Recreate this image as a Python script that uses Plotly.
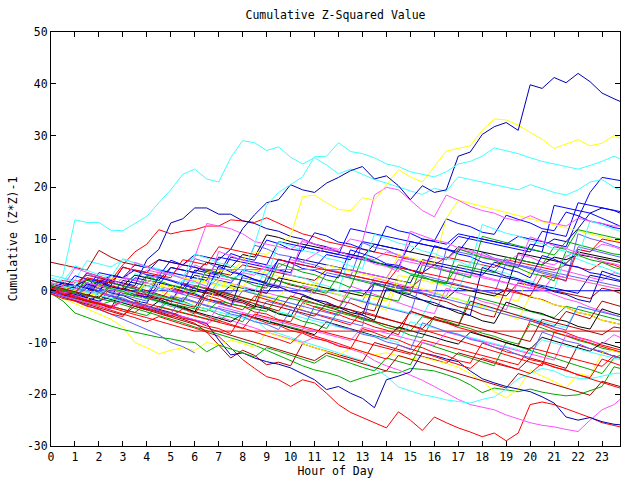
import plotly.graph_objects as go

# ---------------- data ----------------
HOURS = [0, 0.5, 1, 1.5, 2, 2.5, 3, 3.5, 4, 4.5, 5, 5.5,
         6, 6.5, 7, 7.5, 8, 8.5, 9, 9.5, 10, 10.5, 11, 11.5,
         12, 12.5, 13, 13.5, 14, 14.5, 15, 15.5, 16, 16.5, 17, 17.5,
         18, 18.5, 19, 19.5, 20, 20.5, 21, 21.5, 22, 22.5, 23, 23.5,
         23.75]

X_TICKS = list(range(24))
X_LABELS = ["0", "1", "2", "3", "4", "5", "6", "7", "8", "9", "10", "11",
            "12", "13", "14", "15", "16", "17", "18", "19", "20", "21", "22", "23"]
Y_TICKS = [-30, -20, -10, 0, 10, 20, 30, 40, 50]
Y_LABELS = ["-30", "-20", "-10", "0", "10", "20", "30", "40", "50"]

RED = "#ff0000"
GREEN = "#00a800"
BLUE = "#0000ff"
MAGENTA = "#ff50ff"
CYAN = "#40ffff"
DARKRED = "#b00000"
YELLOW = "#ffff00"
BLACK = "#000000"
NAVY = "#0000b0"
SLATE = "#6060ff"

cyan_top = [0.5, 3.0, 13.7, 13.2, 13.2, 11.7, 11.6, 13.0, 14.4, 17.0, 19.5, 22.5,
            23.5, 21.6, 21.0, 25.7, 29.0, 28.6, 27.1, 27.8, 25.8, 24.5, 25.7, 24.3,
            22.6, 23.5, 22.5, 21.5, 20.8, 20.0, 19.3, 18.6, 19.8, 19.2, 22.0, 21.5,
            21.0, 20.5, 20.0, 19.5, 20.5, 19.7, 19.0, 18.5, 19.5, 21.0, 21.5, 20.0,
            19.5]
cyan_second = [1.0, 0.5, 1.0, 0.0, -0.5, 0.5, 0.0, -0.5, 1.0, 0.5, 0.0, 2.0,
               1.5, 1.0, 3.0, 2.5, 3.0, 9.0, 16.5, 19.0, 20.5, 22.0, 25.9, 26.0,
               28.6, 26.9, 26.5, 25.7, 24.5, 24.0, 23.0, 22.5, 22.0, 23.0, 24.5, 25.0,
               26.0, 27.6, 27.0, 26.5, 25.7, 25.0, 24.5, 24.0, 23.5, 24.2, 25.0, 26.0,
               25.5]
navy_peak = [0.5, 1.5, 1.0, 2.0, 1.5, 3.0, 2.5, 4.0, 3.5, 6.0, 5.5, 5.0,
             7.0, 6.5, 6.0, 8.0, 12.0, 14.7, 17.0, 17.6, 20.5, 19.5, 19.0, 20.8,
             21.9, 23.2, 24.0, 21.6, 22.2, 20.3, 17.6, 20.3, 19.0, 19.5, 26.0, 26.8,
             30.2, 31.7, 32.5, 31.0, 39.8, 39.1, 41.2, 40.2, 42.0, 40.4, 38.2, 37.1,
             36.6]
navy_second = [0.0, -0.5, 1.0, 0.5, 0.0, 2.0, 1.5, 1.0, 6.0, 8.0, 13.1, 13.9,
               16.0, 16.0, 14.8, 14.8, 13.5, 13.0, 12.0, 11.5, 10.5, 10.0, 9.0, 8.5,
               7.5, 7.0, 6.5, 5.5, 5.0, 4.5, 4.0, 3.5, 5.0, 4.5, 4.0, 3.5,
               3.0, 5.5, 5.0, 4.5, 9.0, 8.5, 10.0, 9.5, 12.0, 15.0, 16.0, 15.5,
               15.0]
blue_late = [0.5, 0.0, -0.5, 1.5, 1.0, 0.5, 0.0, 2.5, 2.0, 1.5, 1.0, 0.5,
             3.0, 2.5, 2.0, 1.5, 4.0, 3.5, 3.0, 6.0, 5.5, 5.0, 4.5, 7.0,
             6.5, 6.0, 9.5, 9.0, 8.5, 8.0, 7.5, 10.0, 9.5, 9.0, 11.0, 10.5,
             10.0, 9.5, 9.0, 10.5, 10.0, 9.5, 9.0, 8.5, 14.0, 19.0, 21.9, 21.5,
             21.3]
yellow_high = [1.0, 0.5, 0.0, -0.5, -1.0, 0.5, 0.0, -0.5, 1.5, 1.0, 0.5, 2.5,
               2.0, 3.5, 4.0, 3.5, 6.0, 7.5, 7.0, 9.0, 10.5, 18.2, 18.5, 17.0,
               15.7, 15.5, 18.0, 17.5, 20.5, 23.4, 22.0, 21.0, 24.0, 27.0, 27.5, 28.0,
               31.0, 33.2, 33.0, 32.0, 30.6, 29.3, 27.5, 28.4, 29.2, 28.0, 28.5, 30.0,
               29.5]
magenta_high = [0.0, -0.5, 0.5, 0.0, -0.5, -1.0, 0.0, -0.5, -1.0, 0.5, 0.0, -0.5,
                1.0, 0.5, 2.5, 2.0, 3.5, 3.0, 5.0, 4.5, 6.0, 5.5, 7.0, 8.5,
                8.0, 10.0, 9.5, 18.5, 20.0, 19.5, 17.5, 15.5, 14.3, 18.5, 17.5, 16.3,
                15.5, 15.0, 14.0, 13.5, 14.5, 13.5, 13.0, 12.5, 14.0, 13.5, 13.0, 12.5,
                12.5]
magenta_early = [1.0, 0.5, 2.0, 1.5, 1.0, 3.0, 2.5, 2.0, 4.0, 3.5, 3.0, 5.0,
                 6.5, 13.0, 12.5, 12.0, 11.0, 9.5, 9.0, 8.5, 8.0, 9.5, 9.0, 8.0,
                 7.5, 7.0, 6.5, 6.0, 7.5, 7.0, 6.0, 5.5, 6.5, 6.0, 8.0, 7.5,
                 7.0, 6.0, 5.5, 7.0, 6.5, 5.5, 5.0, 6.5, 8.0, 7.5, 9.0, 8.5,
                 8.0]
red_upper = [1.0, 2.0, 1.5, 3.0, 2.5, 2.0, 5.0, 7.5, 9.0, 11.8, 11.0, 11.5,
             11.8, 12.5, 12.5, 13.7, 13.5, 13.2, 14.1, 13.0, 12.0, 11.0, 10.4, 9.5,
             9.0, 8.5, 8.0, 7.5, 7.0, 6.5, 6.0, 5.5, 5.0, 6.5, 6.0, 5.5,
             5.0, 4.5, 6.0, 5.5, 5.0, 4.5, 4.0, 5.0, 4.5, 4.0, 5.5, 5.0,
             4.5]
darkred_start = [5.5, 5.0, 4.5, 4.0, 7.8, 6.5, 5.5, 5.0, 4.5, 6.0, 5.5, 5.0,
                 4.5, 4.0, 3.5, 3.0, 5.0, 4.5, 4.0, 3.5, 3.0, 2.5, 2.0, 4.0,
                 3.5, 3.0, 2.5, 2.0, 1.5, 1.0, 0.5, 2.5, 2.0, 1.5, 1.0, 0.5,
                 0.0, -0.5, -1.0, 1.5, 1.0, 0.5, 0.0, -0.5, -1.0, -1.5, 0.5, 0.0,
                 -0.5]
red_lowest = [0.0, -0.8, -1.6, -2.4, -3.0, -3.8, -4.5, -5.2, -6.0, -5.0, -5.8, -6.5,
              -7.2, -8.0, -8.8, -11.0, -13.3, -15.0, -16.6, -17.2, -18.5, -17.2, -17.8, -19.8,
              -22.0, -23.5, -24.5, -25.5, -26.5, -23.4, -25.0, -27.0, -24.4, -25.5, -26.5, -27.3,
              -28.2, -27.5, -29.0, -27.5, -22.0, -21.5, -22.0, -22.8, -23.6, -24.5, -25.5, -26.0,
              -26.3]
navy_low = [0.5, 0.0, -0.7, -1.4, -2.0, -1.0, -1.7, -2.4, -3.0, -3.6, -4.2, -5.0,
            -5.6, -6.3, -9.5, -12.4, -12.0, -13.0, -13.7, -14.2, -14.9, -16.0, -17.2, -19.1,
            -18.5, -19.8, -20.8, -22.6, -17.2, -16.5, -15.7, -12.0, -12.5, -13.2, -13.7, -15.5,
            -17.0, -17.8, -18.5, -19.0, -19.5, -20.5, -21.7, -24.4, -25.0, -24.5, -25.3, -25.8,
            -25.9]
cyan_low = [0.0, -0.6, -1.2, -0.2, -0.8, -1.5, -2.2, -2.8, -1.5, -2.2, -3.0, -3.6,
            -4.3, -5.0, -5.6, -4.0, -4.7, -5.5, -7.5, -8.2, -9.0, -9.8, -10.5, -11.2,
            -12.0, -12.8, -13.5, -15.0, -16.5, -18.6, -19.3, -20.1, -20.5, -21.1, -21.4, -21.7,
            -21.0, -20.5, -19.0, -17.0, -16.0, -15.0, -15.5, -16.6, -16.9, -17.0, -16.5, -16.0,
            -15.9]
magenta_low = [0.5, -0.2, -0.9, -1.6, -2.2, -2.9, -1.8, -2.5, -3.2, -3.8, -4.5, -5.2,
               -5.8, -6.5, -5.0, -5.7, -6.5, -7.2, -8.0, -8.7, -9.4, -10.0, -9.0, -9.8,
               -10.5, -11.3, -12.0, -13.5, -14.5, -15.3, -16.3, -17.3, -18.5, -19.8, -21.0, -22.0,
               -22.5, -23.0, -24.0, -24.8, -25.5, -26.0, -26.3, -26.8, -27.2, -25.0, -23.0, -22.0,
               -21.0]
green_low = [0.0, -0.7, -1.4, -2.1, -2.8, -2.0, -2.7, -3.4, -4.0, -4.8, -5.5, -6.2,
             -7.0, -7.7, -8.4, -9.0, -9.8, -10.5, -11.5, -12.5, -13.5, -14.5, -15.3, -15.8,
             -16.5, -17.6, -16.8, -16.2, -15.5, -15.9, -15.0, -15.2, -15.5, -16.2, -17.0, -18.2,
             -19.7, -18.8, -19.2, -19.5, -19.0, -19.6, -20.0, -20.3, -20.1, -19.3, -18.5, -14.7,
             -15.0]
yellow_low = [-0.5, -1.5, -2.5, -3.5, -4.5, -5.5, -7.0, -10.0, -11.0, -12.2, -11.5, -11.0,
              -11.5, -10.0, -10.5, -9.5, -10.2, -11.0, -8.0, -8.8, -9.5, -10.2, -11.0, -11.8,
              -12.5, -11.0, -11.8, -12.4, -12.0, -12.6, -13.2, -12.8, -13.5, -14.0, -14.8, -16.0,
              -17.5, -19.5, -20.7, -19.0, -15.3, -16.5, -17.5, -18.8, -16.0, -16.5, -12.0, -11.5,
              -12.0]
slate_short = [0.0, -1.0, -2.0, -2.8, -3.6, -4.5, -5.5, -6.5, -7.5, -8.5, -10.0, -10.8,
               -12.0, None, None, None, None, None, None, None, None, None, None, None,
               None, None, None, None, None, None, None, None, None, None, None, None,
               None, None, None, None, None, None, None, None, None, None, None, None,
               None]
green_bottom = [-0.5, -2.0, -4.3, -5.2, -6.0, -6.8, -7.5, -8.0, -8.5, -9.0, -9.3, -9.8,
                -10.0, -11.8, -10.5, -11.2, -12.0, -12.8, -11.0, -11.7, -12.5, -13.2, -14.0, -12.5,
                -13.2, -14.0, -14.8, -15.5, -13.0, -13.7, -14.3, -10.0, -10.8, -11.5, -12.3, -13.0,
                -13.8, -14.5, -10.0, -10.8, -11.5, -12.3, -13.0, -13.8, -14.5, -15.2, -16.0, -13.0,
                -12.5]
darkred_low = [0.0, -0.8, -1.5, 0.5, -0.3, -1.0, -1.8, -2.5, -3.3, -4.0, -4.8, -5.5,
               -6.3, -8.0, -10.5, -13.0, -11.5, -12.5, -14.3, -13.8, -14.5, -10.2, -11.0, -11.7,
               -12.3, -13.0, -13.7, -10.0, -10.7, -11.4, -12.0, -12.7, -13.3, -14.0, -12.0, -12.6,
               -13.3, -14.0, -14.6, -15.2, -13.0, -13.6, -14.3, -15.0, -10.5, -11.2, -11.9, -12.5,
               -13.0]
black_a = [0.0, 0.5, 0.0, 1.5, 1.0, 0.5, 0.0, -0.5, 2.0, 1.5, 1.0, 0.5,
           0.0, -0.5, -1.0, 1.0, 0.5, 0.0, -0.5, 2.5, 2.0, 1.5, 1.0, 0.5,
           0.0, -0.5, -1.0, 1.5, 1.0, 0.5, 0.0, -0.5, -1.0, -1.5, 0.5, 0.0,
           -0.5, -1.0, 0.2, 7.3, 6.8, 6.3, 5.8, 5.3, 7.5, 7.0, 6.5, 6.0,
           5.8]
black_b = [0.5, 1.0, 0.5, 0.0, 2.0, 1.5, 1.0, 3.0, 2.5, 2.0, 4.5, 4.0,
           3.5, 5.5, 5.0, 4.5, 7.0, 6.5, 10.8, 10.3, 9.5, 9.0, 8.5, 8.0,
           7.5, 7.0, 6.5, 9.0, 8.5, 8.0, 7.5, 7.0, 6.5, 6.0, 8.5, 8.0,
           7.5, 7.0, 6.5, 6.0, 5.5, 5.0, 6.5, 6.0, 7.0, 6.6, 6.2, 5.8,
           5.5]
black_c = [0.0, -0.7, -1.4, -2.0, -1.0, -1.7, -2.4, -3.0, -3.7, -2.0, -2.7, -3.4,
           -4.0, -4.7, -5.3, -6.0, -4.5, -5.2, -5.9, -6.5, -7.2, -7.8, -8.5, -6.0,
           -6.7, -7.3, -8.0, -8.7, -9.3, -7.0, -7.7, -8.3, -9.0, -9.7, -10.3, -8.0,
           -8.7, -9.4, -10.0, -10.7, -11.3, -9.0, -9.7, -10.4, -11.0, -11.7, -10.0, -10.7,
           -11.0]
red_mid_low = [0.5, -0.3, -1.0, -1.8, -2.5, -3.2, -2.0, -2.7, -3.4, -4.2, -5.0, -3.5,
               -4.2, -5.0, -5.7, -6.5, -7.2, -8.0, -8.7, -9.4, -10.2, -8.0, -8.7, -9.4,
               -10.2, -11.0, -11.7, -12.4, -13.2, -10.5, -11.2, -12.0, -12.7, -13.5, -14.2, -15.0,
               -13.0, -13.7, -14.5, -15.2, -16.0, -14.0, -14.7, -15.4, -16.2, -17.0, -17.7, -18.5,
               -18.8]
red_mid = [1.0, 0.3, -0.4, -1.1, 1.5, 0.8, 0.1, -0.6, -1.3, -2.0, 0.5, -0.2,
           -0.9, -1.6, -2.3, -3.0, -3.7, -1.0, -1.7, -2.4, -3.1, -3.8, -4.5, -5.2,
           -5.9, -6.6, -4.0, -4.7, -5.4, -6.1, -6.8, -7.5, -8.2, -8.9, -9.6, -10.3,
           -11.0, -11.7, -12.4, -13.1, -13.8, -14.5, -8.0, -8.7, -9.4, -10.1, -10.8, -11.5,
           -11.8]
darkred_mid = [2.0, 1.3, 0.6, 3.5, 2.8, 2.1, 1.4, 0.7, 0.0, -0.7, -1.4, -2.1,
               1.0, 0.3, -0.4, -1.1, -1.8, -2.5, -3.2, -3.9, -1.0, -1.7, -2.4, -3.1,
               -3.8, -4.5, -5.2, -5.9, -6.6, -7.3, -4.0, -4.7, -5.4, -6.1, -6.8, -2.0,
               -2.7, -3.4, -4.1, -4.8, -5.5, -6.2, -6.9, -4.0, -4.7, -5.4, -2.0, -2.7,
               -3.0]
darkred_lowmid = [-0.5, -1.2, -1.9, -2.6, -3.3, -4.0, -4.7, -3.0, -3.7, -4.4, -5.1, -5.8,
                  -6.5, -7.2, -7.9, -8.6, -9.3, -10.0, -10.7, -11.4, -12.1, -12.8, -13.5, -12.0,
                  -12.7, -13.4, -14.1, -14.8, -15.5, -12.5, -13.2, -13.9, -14.6, -15.3, -16.0, -16.7,
                  -17.4, -18.1, -18.8, -16.0, -16.7, -17.4, -18.1, -18.8, -19.5, -20.2, -17.5, -18.2,
                  -18.5]
green_mid = [0.0, -0.6, -1.2, -1.8, -2.4, -3.0, -3.6, -4.2, -4.8, -3.0, -3.6, -4.2,
             -4.8, -5.4, -6.0, -4.0, -4.6, -5.2, -5.8, -6.4, -7.0, -7.6, -3.0, -3.6,
             -4.2, -4.8, -5.4, -6.0, -6.6, -7.2, -7.8, -5.0, -5.6, -6.2, -6.8, -1.0,
             -1.6, -2.2, -2.8, -3.4, -4.0, -4.6, -5.2, -3.0, -3.6, -4.2, -4.8, -5.4,
             -5.7]
green_rising = [0.5, 0.0, -0.5, -1.0, -1.5, -2.0, -0.5, -1.0, -1.5, -2.0, -2.5, -3.0,
                -3.5, -4.0, -2.0, -2.5, -3.0, -3.5, -4.0, -1.0, -1.5, -2.0, -2.5, -3.0,
                -3.5, 0.0, -0.5, -1.0, -1.5, -2.0, 3.0, 2.5, 2.0, 1.5, 5.0, 4.5,
                4.0, 3.5, 6.5, 6.0, 5.5, 5.0, 8.5, 8.0, 11.8, 11.3, 10.8, 10.3,
                10.0]
slate_mid = [1.5, 1.0, 0.5, 2.5, 2.0, 1.5, 1.0, 0.5, 3.0, 2.5, 2.0, 1.5,
             1.0, 0.5, 0.0, -0.5, 2.5, 2.0, 1.5, 1.0, 0.5, 0.0, -0.5, 3.5,
             3.0, 2.5, 2.0, 1.5, 1.0, 0.5, 0.0, -0.5, -1.0, 8.0, 7.5, 7.0,
             6.5, 6.0, 5.5, 5.0, 4.5, 4.0, 3.5, 3.0, 2.5, 2.0, 1.5, 1.0,
             0.8]
slate_low = [-0.5, -1.1, -1.7, -2.3, -0.5, -1.1, -1.7, -2.3, -2.9, -3.5, -1.0, -1.6,
             -2.2, -2.8, -3.4, -4.0, -4.6, -5.2, -2.0, -2.6, -3.2, -3.8, -4.4, -5.0,
             -5.6, -6.2, -6.8, 2.0, 1.4, 0.8, 0.2, -0.4, -1.0, -1.6, -2.2, -2.8,
             -3.4, -4.0, -4.6, -5.2, -5.8, -6.4, -7.0, -7.6, -3.0, -3.6, -4.2, -4.8,
             -5.0]
blue_mid = [2.0, 1.5, 1.0, 0.5, 3.5, 3.0, 2.5, 5.0, 4.5, 4.0, 3.5, 3.0,
            2.5, 2.0, 6.5, 6.0, 5.5, 5.0, 4.5, 4.0, 3.5, 8.5, 8.0, 7.5,
            7.0, 6.5, 6.0, 5.5, 5.0, 4.5, 9.5, 9.0, 8.5, 8.0, 7.5, 10.5,
            10.0, 9.5, 9.0, 8.5, 8.0, 7.5, 16.5, 16.0, 15.5, 15.0, 14.0, 13.0,
            12.5]
cyan_mid = [3.0, 2.5, 2.0, 5.8, 5.2, 4.6, 6.0, 5.4, 4.8, 4.2, 3.6, 3.0,
            2.4, 1.8, 1.2, 0.6, 0.0, -0.6, -1.2, -1.8, -2.4, -3.0, 0.5, -0.1,
            -0.7, -1.3, -1.9, -2.5, -3.1, -3.7, -4.3, -4.9, -0.5, -1.1, -1.7, -2.3,
            -2.9, -3.5, -4.1, -4.7, -5.3, -5.9, -6.5, -7.1, -3.0, -3.6, -4.2, -4.8,
            -5.0]
cyan_lowmid = [1.5, 0.9, 0.3, -0.3, -0.9, -1.5, -2.1, -2.7, -0.5, -1.1, -1.7, -2.3,
               -2.9, -3.5, -4.1, -4.7, -5.3, -5.9, -6.5, -4.0, -4.6, -5.2, -5.8, -6.4,
               -7.0, -7.6, -8.2, -8.8, -9.4, -10.0, -6.0, -6.6, -7.2, -7.8, -8.4, -9.0,
               -9.6, -10.2, -10.8, -11.4, -12.0, -9.5, -10.1, -10.7, -11.3, -11.9, -12.5, -13.1,
               -13.3]
magenta_mid = [0.0, -0.6, 2.0, 1.4, 0.8, 0.2, -0.4, -1.0, 1.5, 0.9, 0.3, -0.3,
               -0.9, -1.5, 2.0, 1.4, 0.8, 0.2, -0.4, -1.0, -1.6, 1.0, 0.4, -0.2,
               -0.8, -1.4, -2.0, 2.5, 1.9, 1.3, 0.7, 0.1, -0.5, -1.1, 4.0, 3.4,
               2.8, 2.2, 1.6, 1.0, 0.4, 5.0, 4.4, 3.8, 3.2, 2.6, 2.0, 3.5,
               3.2]
magenta_lowmid = [-0.5, -1.1, -1.7, -2.3, -2.9, -3.5, -2.0, -2.6, -3.2, -3.8, -4.4, -5.0,
                  -5.6, -6.2, -3.0, -3.6, -4.2, -4.8, -5.4, -6.0, -6.6, -7.2, -7.8, -8.4,
                  -9.0, -9.6, -7.0, -7.6, -8.2, -8.8, -9.4, -10.0, -10.6, -8.0, -8.6, -9.2,
                  -9.8, -10.4, -11.0, -11.6, -12.2, -12.8, -13.4, -8.5, -9.1, -9.7, -10.3, -8.5,
                  -9.0]
yellow_mid = [2.0, 1.5, 1.0, 0.5, 0.0, 2.5, 2.0, 1.5, 1.0, 0.5, 3.0, 2.5,
              2.0, 1.5, 1.0, 0.5, 0.0, -0.5, -1.0, -1.5, 2.0, 1.5, 1.0, 0.5,
              0.0, -0.5, -1.0, -1.5, -2.0, 3.0, 2.5, 2.0, 1.5, 1.0, 0.5, 0.0,
              -0.5, -1.0, -1.5, -2.0, 4.0, 3.5, 3.0, 2.5, 2.0, 1.5, 1.0, 0.5,
              0.3]
yellow_upmid = [0.0, -0.6, -1.2, -1.8, 1.0, 0.4, -0.2, -0.8, 2.0, 1.4, 0.8, 0.2,
                -0.4, 2.5, 1.9, 1.3, 0.7, 4.0, 3.4, 2.8, 2.2, 1.6, 1.0, 5.0,
                4.4, 3.8, 3.2, 2.6, 2.0, 7.0, 6.4, 5.8, 5.2, 14.0, 17.5, 16.9,
                16.3, 15.7, 15.1, 14.5, 13.9, 13.3, 12.7, 12.1, 11.5, 10.9, 10.3, 9.7,
                9.5]
green_upper = [1.0, 0.4, -0.2, -0.8, -1.4, 1.5, 0.9, 0.3, -0.3, -0.9, -1.5, -2.1,
               1.0, 0.4, -0.2, -0.8, -1.4, -2.0, 2.5, 1.9, 1.3, 0.7, 0.1, -0.5,
               3.0, 2.4, 1.8, 1.2, 0.6, 0.0, -0.6, 5.0, 4.4, 3.8, 3.2, 2.6,
               10.5, 9.9, 9.3, 8.7, 8.1, 7.5, 6.9, 9.5, 8.9, 8.3, 7.7, 7.1,
               7.0]
red_upmid = [0.5, 0.0, -0.5, 2.5, 2.0, 1.5, 4.5, 4.0, 3.5, 3.0, 2.5, 6.0,
             5.5, 5.0, 8.5, 8.0, 7.5, 7.0, 6.5, 6.0, 5.5, 5.0, 4.5, 4.0,
             3.5, 3.0, 2.5, 2.0, 1.5, 4.5, 4.0, 3.5, 3.0, 2.5, 2.0, 1.5,
             1.0, 0.5, 0.0, -0.5, -1.0, 3.0, 2.5, 2.0, 8.0, 7.5, 10.0, 9.5,
             9.3]
red_flat = [0.0, -0.7, -1.3, -2.0, -2.6, -3.3, -3.9, -4.6, -5.2, -5.9, -6.5, -7.2,
            -7.8, -7.8, -7.8, -7.8, -7.8, -7.8, -7.8, -7.8, -7.8, -7.8, -7.8, -7.8,
            -7.8, -7.8, -7.8, -7.8, -7.8, -7.8, -7.8, -7.8, -7.8, -7.8, -7.8, -7.8,
            -7.8, -7.8, -7.8, -7.8, -7.8, -7.8, -7.8, -7.8, -7.8, -7.8, -7.8, -7.8,
            -7.8]
blue_flat = [0.0, 0.0, 0.0, 0.0, 0.0, 0.0, 0.0, 0.0, 0.0, 0.0, 0.0, 0.0,
             0.0, 0.0, 0.0, 0.0, 0.0, 0.0, 0.0, 0.0, 0.0, 0.0, 0.0, 0.0,
             0.0, 0.0, 0.0, 0.0, 0.0, 0.0, 0.0, 0.0, 0.0, 0.0, 0.0, 0.0,
             0.0, 0.0, 0.0, 0.0, 0.0, 0.0, 0.0, 0.0, 0.0, 0.0, 0.0, 0.0,
             0.0]
magenta_flat = [0.5, 0.0, -0.5, 1.5, 1.0, 0.5, 2.5, 2.0, 1.5, 3.5, 3.0, 2.5,
                5.0, 4.1, 4.1, 4.1, 4.1, 4.1, 4.1, 4.1, 4.1, 4.1, 4.1, 4.1,
                4.1, 4.1, 3.5, 3.0, 2.5, 6.0, 5.5, 5.0, 4.5, 4.0, 3.5, 3.0,
                2.5, 2.0, 1.5, 1.0, 0.5, 0.0, 3.0, 2.5, 2.0, 1.5, 1.0, 0.5,
                0.3]
blue_upmid = [0.0, 1.5, 1.0, 0.5, 0.0, 3.0, 2.5, 2.0, 1.5, 1.0, 4.5, 4.0,
              3.5, 3.0, 2.5, 6.5, 6.0, 5.5, 5.0, 9.5, 9.0, 8.5, 8.0, 7.5,
              7.0, 12.0, 11.5, 11.0, 10.5, 10.0, 9.5, 9.0, 8.5, 8.0, 10.5, 10.0,
              9.5, 9.0, 8.5, 8.0, 7.5, 11.5, 11.0, 10.5, 17.0, 16.5, 16.0, 15.5,
              15.3]
navy_mid = [-0.5, 1.0, 0.5, 0.0, -0.5, -1.0, 2.0, 1.5, 1.0, 0.5, 0.0, -0.5,
            4.0, 3.5, 3.0, 2.5, 2.0, 1.5, 1.0, 0.5, 6.5, 6.0, 5.5, 5.0,
            4.5, 4.0, 3.5, 3.0, 2.5, 2.0, 1.5, 6.0, 5.5, 5.0, 4.5, 4.0,
            3.5, 3.0, 2.5, 2.0, 1.5, 1.0, 0.5, 0.0, -0.5, 3.0, 2.5, 2.0,
            1.8]
slate_up = [0.0, -0.6, -1.2, 1.0, 0.4, -0.2, -0.8, -1.4, -2.0, 0.5, -0.1, -0.7,
            -1.3, -1.9, -2.5, -3.1, 0.0, -0.6, -1.2, -1.8, -2.4, -3.0, -3.6, -4.2,
            -4.8, -1.5, -2.1, -2.7, -3.3, -3.9, -4.5, 3.0, 2.4, 1.8, 1.2, 0.6,
            0.0, -0.6, 5.5, 4.9, 4.3, 3.7, 3.1, 2.5, 8.5, 7.9, 7.3, 6.7,
            6.5]
darkred_neg = [1.0, 0.4, -0.2, -0.8, -1.4, 1.0, 0.4, -0.2, -0.8, -1.4, -2.0, -2.6,
               -3.2, 0.5, -0.1, -0.7, -1.3, -1.9, -2.5, -3.1, -3.7, -4.3, -4.9, -2.5,
               -3.1, -3.7, -4.3, -4.9, -5.5, -6.1, -6.7, -7.3, -5.0, -5.6, -6.2, -6.8,
               -7.4, -8.0, -8.6, -9.2, -9.8, -5.5, -6.1, -6.7, -7.3, -7.9, -8.5, -7.0,
               -7.2]
red_neg = [0.0, -0.6, -1.2, -1.8, -2.4, -3.0, -3.6, -4.2, -2.5, -3.1, -3.7, -4.3,
           -4.9, -5.5, -6.1, -6.7, -7.3, -4.5, -5.1, -5.7, -6.3, -6.9, -7.5, -8.1,
           -8.7, -9.3, -9.9, -10.5, -11.1, -11.7, -12.3, -9.5, -10.1, -10.7, -11.3, -11.9,
           -12.5, -13.1, -13.7, -14.3, -11.0, -11.6, -12.2, -12.8, -13.4, -14.0, -14.6, -12.5,
           -13.0]
blue_wander = [0.8, 0.1, 2.9, 2.2, 1.9, 1.0, 4.6, 3.9, 3.1, 2.8, 5.9, 5.0,
               4.6, 3.7, 3.3, 7.2, 6.4, 5.9, 9.8, 9.1, 8.0, 7.7, 11.2, 10.6,
               9.4, 9.0, 8.1, 7.5, 12.5, 11.6, 11.1, 10.0, 9.6, 13.9, 13.0, 12.4,
               11.3, 10.9, 14.6, 13.8, 13.1, 12.0, 11.6, 15.2, 14.5, 13.4, 13.0, 12.2,
               12.0]
blue_saw = [-0.3, -1.1, -0.2, -1.4, 1.8, 0.7, 0.3, -0.8, -1.2, 2.6, 1.9, 1.2,
            0.4, -0.1, 4.8, 3.6, 3.1, 2.2, 1.6, 6.1, 5.4, 4.3, 3.9, 3.0,
            2.5, 7.9, 7.1, 6.4, 5.2, 4.9, 4.0, 3.2, 8.7, 8.0, 7.1, 6.6,
            5.5, 5.0, 4.2, 3.6, 2.5, 6.8, 6.1, 5.0, 4.6, 3.5, 3.1, 2.3,
            2.0]
slate_saw = [1.2, 0.3, -0.1, 3.4, 2.3, 1.8, 0.9, 0.4, -0.6, 2.9, 2.1, 1.3,
             6.2, 5.5, 4.4, 4.0, 3.1, 8.8, 8.1, 7.0, 6.6, 5.5, 5.0, 4.1,
             3.7, 2.6, 9.3, 8.4, 7.9, 6.8, 6.3, 5.3, 4.9, 3.8, 3.3, 2.5,
             7.4, 6.3, 5.8, 4.9, 4.2, 3.4, 2.8, 1.8, 11.0, 10.1, 9.5, 8.6,
             8.3]
magenta_saw = [-0.8, 0.9, 0.1, -0.5, -1.6, -2.0, 0.4, -0.5, -1.1, -1.9, -2.5, 1.3,
               0.6, -0.4, -0.9, -2.0, -2.4, -3.4, 1.5, 0.8, -0.1, -0.8, -1.7, -2.2,
               -3.3, 0.9, 0.1, -0.7, -1.5, -2.3, -3.0, -3.9, -4.4, 0.5, -0.4, -1.0,
               -2.1, -2.6, -3.7, 1.8, 1.0, 0.1, -0.7, -1.6, -2.2, -3.2, -3.9, -4.6,
               -5.0]
cyan_saw = [0.2, 2.4, 1.7, 0.9, 0.5, -0.6, -1.0, 3.3, 2.5, 1.6, 1.2, 0.1,
            -0.4, -1.5, 2.0, 1.2, 0.6, -0.4, 4.8, 4.1, 3.0, 2.6, 1.5, 1.0,
            0.0, 7.2, 6.3, 5.8, 4.7, 4.3, 3.2, 2.7, 1.8, 1.1, 0.2, 5.6,
            4.9, 3.9, 3.4, 2.3, 1.9, 0.8, 0.3, 6.9, 6.1, 5.2, 4.6, 3.7,
            3.3]
green_saw = [-0.2, -1.3, -1.8, -2.9, -0.3, -1.0, -2.1, -2.5, -3.6, -4.0, -1.2, -2.0,
             -3.0, -3.5, -4.6, -5.1, -6.0, -2.6, -3.4, -4.3, -4.9, -5.9, -6.4, -7.3,
             -3.9, -4.6, -5.6, -6.1, -7.1, -7.6, -8.6, -9.1, -5.0, -5.8, -6.7, -7.3,
             -8.2, -8.8, -9.7, -10.3, -6.4, -7.2, -8.1, -8.7, -9.6, -10.2, -11.1, -11.6,
             -11.9]
red_saw = [0.4, -0.5, -0.9, -2.0, -2.4, 0.9, 0.1, -0.6, -1.5, -2.1, -3.0, -3.5,
           -4.5, -0.9, -1.6, -2.6, -3.0, -4.1, -4.5, -5.6, -6.0, -2.3, -3.1, -4.0,
           -4.6, -5.5, -6.1, -7.0, -7.6, -8.5, -3.9, -4.7, -5.6, -6.2, -7.1, -7.7,
           -8.6, -9.2, -10.1, -10.7, -5.8, -6.6, -7.5, -8.1, -9.0, -9.6, -10.5, -11.1,
           -11.4]
darkred_saw = [1.5, 0.6, 0.1, -0.9, 2.6, 1.8, 0.9, 0.4, -0.6, -1.1, -2.1, 1.4,
               0.6, -0.3, -0.8, -1.8, -2.3, -3.3, 2.8, 2.0, 1.1, 0.6, -0.4, -0.9,
               -1.9, -2.4, -3.4, -3.9, 1.6, 0.8, -0.1, -0.6, -1.6, -2.1, -3.1, -3.6,
               -4.6, -5.1, 0.5, -0.3, -1.2, -1.7, -2.7, -3.2, -4.2, -4.7, -5.7, -6.2,
               -6.5]
yellow_saw = [0.6, -0.2, 1.9, 1.0, 0.6, -0.5, -0.9, -2.0, 0.8, 0.0, -0.9, -1.4,
              -2.4, -2.9, 1.6, 0.8, -0.1, -0.6, -1.6, -2.1, -3.1, -3.6, 0.9, 0.1,
              -0.8, -1.3, -2.3, -2.8, -3.8, 2.1, 1.3, 0.4, -0.1, -1.1, -1.6, -2.6,
              -3.1, -4.1, -4.6, -5.6, -1.0, -1.8, -2.7, -3.2, -4.2, -4.7, -5.7, -6.2,
              -6.5]
navy_saw = [0.2, -0.7, -1.1, 1.3, 0.5, -0.4, -0.9, -1.9, -2.4, 1.6, 0.8, -0.1,
            -0.6, -1.6, -2.1, -3.1, 3.0, 2.2, 1.3, 0.8, -0.2, -0.7, -1.7, -2.2,
            -3.2, -3.7, -4.7, 1.4, 0.6, -0.3, -0.8, -1.8, -2.3, -3.3, -3.8, -4.8,
            4.5, 3.7, 2.8, 2.3, 1.3, 0.8, -0.2, -0.7, -1.7, -2.2, 3.8, 3.0,
            2.7]
black_saw = [0.3, -0.6, -1.0, -2.1, -2.5, -3.4, 0.6, -0.2, -1.1, -1.6, -2.6, -3.1,
             -4.1, 0.2, -0.6, -1.5, -2.0, -3.0, -3.5, -4.5, -5.0, -1.0, -1.8, -2.7,
             -3.2, -4.2, -4.7, -5.7, 0.4, -0.4, -1.3, -1.8, -2.8, -3.3, -4.3, -4.8,
             -5.8, -6.3, -2.2, -3.0, -3.9, -4.4, -5.4, -5.9, -6.9, -7.4, -3.5, -4.3,
             -4.6]
green_saw_up = [0.9, 0.1, -0.4, 2.1, 1.3, 0.4, -0.1, -1.1, 2.8, 2.0, 1.1, 0.6,
                -0.4, 4.2, 3.4, 2.5, 2.0, 1.0, 0.5, 5.3, 4.5, 3.6, 3.1, 2.1,
                1.6, 0.6, 6.5, 5.7, 4.8, 4.3, 3.3, 2.8, 1.8, 1.3, 8.1, 7.3,
                6.4, 5.9, 4.9, 4.4, 3.4, 2.9, 1.9, 7.7, 6.9, 6.0, 5.5, 4.5,
                4.2]
cyan_saw_up = [2.5, 1.7, 4.8, 4.0, 3.1, 2.6, 6.2, 5.4, 4.5, 4.0, 3.0, 2.5,
               7.1, 6.3, 5.4, 4.9, 3.9, 3.4, 2.4, 9.5, 8.7, 7.8, 7.3, 6.3,
               5.8, 4.8, 4.3, 10.9, 10.1, 9.2, 8.7, 7.7, 7.2, 6.2, 5.7, 4.7,
               12.8, 12.0, 11.1, 10.6, 9.6, 9.1, 8.1, 7.6, 6.6, 13.5, 12.7, 11.8,
               11.5]
magenta_saw_up = [1.6, 0.8, 4.4, 3.6, 2.7, 2.2, 1.2, 5.5, 4.7, 3.8, 3.3, 2.3,
                  1.8, 0.8, 7.6, 6.8, 5.9, 5.4, 4.4, 3.9, 2.9, 9.9, 9.1, 8.2,
                  7.7, 6.7, 6.2, 5.2, 4.7, 3.7, 11.5, 10.7, 9.8, 9.3, 8.3, 7.8,
                  6.8, 6.3, 5.3, 4.8, 10.4, 9.6, 8.7, 8.2, 7.2, 6.7, 5.7, 5.2,
                  4.9]
red_saw_low = [-0.6, -1.5, -2.0, -3.0, -3.5, -4.5, -5.0, -2.1, -2.9, -3.8, -4.3, -5.3,
               -5.8, -6.8, -7.3, -8.3, -4.5, -5.3, -6.2, -6.7, -7.7, -8.2, -9.2, -9.7,
               -10.7, -11.2, -7.3, -8.1, -9.0, -9.5, -10.5, -11.0, -12.0, -12.5, -13.5, -14.0,
               -10.1, -10.9, -11.8, -12.3, -13.3, -13.8, -14.8, -15.3, -16.3, -16.8, -13.2, -14.0,
               -14.4]
slate_saw_low = [-0.1, -1.0, -1.5, 0.8, 0.0, -0.9, -1.4, -2.4, -2.9, -3.9, -4.4, -1.3,
                 -2.1, -3.0, -3.5, -4.5, -5.0, -6.0, -6.5, -7.5, -3.7, -4.5, -5.4, -5.9,
                 -6.9, -7.4, -8.4, -8.9, -9.9, -10.4, -11.4, -6.2, -7.0, -7.9, -8.4, -9.4,
                 -9.9, -10.9, -11.4, -12.4, -12.9, -8.0, -8.8, -9.7, -10.2, -11.2, -11.7, -12.7,
                 -13.0]

SERIES = [
    (red_upper, RED), (green_mid, GREEN), (blue_flat, BLUE), (magenta_mid, MAGENTA),
    (cyan_mid, CYAN), (darkred_start, DARKRED), (yellow_mid, YELLOW), (black_a, BLACK),
    (navy_mid, NAVY), (slate_mid, SLATE),
    (red_saw, RED), (green_saw, GREEN), (blue_wander, BLUE), (magenta_saw, MAGENTA),
    (cyan_saw, CYAN), (darkred_saw, DARKRED), (yellow_saw, YELLOW), (black_saw, BLACK),
    (navy_saw, NAVY), (slate_saw, SLATE),
    (red_lowest, RED), (green_low, GREEN), (blue_mid, BLUE), (magenta_low, MAGENTA),
    (cyan_low, CYAN), (darkred_low, DARKRED), (yellow_low, YELLOW), (black_b, BLACK),
    (navy_low, NAVY), (slate_short, SLATE),
    (red_mid, RED), (green_bottom, GREEN), (blue_late, BLUE), (magenta_early, MAGENTA),
    (cyan_top, CYAN), (darkred_mid, DARKRED), (yellow_upmid, YELLOW), (black_c, BLACK),
    (navy_second, NAVY), (slate_low, SLATE),
    (red_mid_low, RED), (green_rising, GREEN), (blue_upmid, BLUE), (magenta_high, MAGENTA),
    (cyan_lowmid, CYAN), (darkred_lowmid, DARKRED), (yellow_high, YELLOW),
    (navy_peak, NAVY), (slate_up, SLATE),
    (red_flat, RED), (green_upper, GREEN), (blue_saw, BLUE), (magenta_flat, MAGENTA),
    (cyan_second, CYAN), (darkred_neg, DARKRED), (red_upmid, RED),
    (green_saw_up, GREEN), (magenta_lowmid, MAGENTA), (cyan_saw_up, CYAN),
    (red_neg, RED), (magenta_saw_up, MAGENTA), (red_saw_low, RED), (slate_saw_low, SLATE),
]

# ---------------- figure ----------------
FONT = "DejaVu Sans Mono"

fig = go.Figure()
for values, color in SERIES:
    fig.add_trace(go.Scatter(x=HOURS, y=values, mode="lines",
                             line=dict(color=color, width=1),
                             connectgaps=False, hoverinfo="skip"))

axis_common = dict(showgrid=False, zeroline=False, showline=True, linecolor="black",
                   linewidth=1, mirror="ticks", ticks="inside", ticklen=5,
                   tickcolor="black", tickwidth=1, automargin=False,
                   tickfont=dict(family=FONT, size=11.5, color="black"))

fig.update_layout(
    width=640, height=480,
    margin=dict(l=51, r=20, t=32, b=34),
    paper_bgcolor="white", plot_bgcolor="white",
    showlegend=False,
    title=dict(text="Cumulative Z-Squared Value", x=0.5, xref="paper",
               y=1 - 15 / 480, yref="container", yanchor="middle", xanchor="center",
               font=dict(family=FONT, size=11.5, color="black")),
    xaxis=dict(range=[0, 23.75], tickvals=X_TICKS, ticktext=X_LABELS,
               title=dict(text="Hour of Day", standoff=0,
                          font=dict(family=FONT, size=11.5, color="black")),
               **axis_common),
    yaxis=dict(range=[-30, 50], tickvals=Y_TICKS, ticktext=Y_LABELS,
               title=dict(text="Cumulative (Z*Z)-1", standoff=6,
                          font=dict(family=FONT, size=11.5, color="black")),
               **axis_common),
)

fig.write_html("out.html", config={"displayModeBar": False})
